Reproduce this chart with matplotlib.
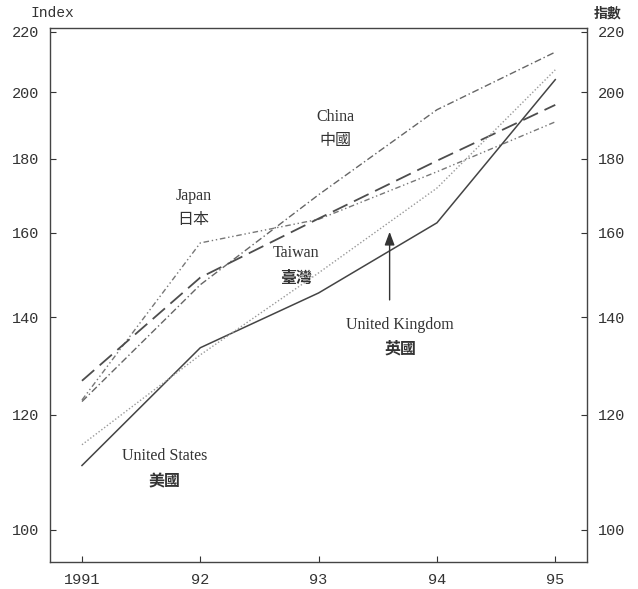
import matplotlib
matplotlib.use("Agg")
import matplotlib.pyplot as plt
from matplotlib.ticker import FixedLocator, NullLocator

years = [1991, 1992, 1993, 1994, 1995]
year_labels = ["1991", "92", "93", "94", "95"]
y_ticks = [100, 120, 140, 160, 180, 200, 220]

china = [122.5, 147.4, 170.0, 194.5, 213.1]
japan = [122.8, 157.5, 163.5, 176.3, 190.8]
taiwan = [126.6, 149.1, 163.7, 179.4, 196.0]
united_kingdom = [110.7, 133.4, 145.5, 162.6, 204.0]
united_states = [114.4, 131.9, 150.2, 171.8, 207.2]

SERIF = ["Liberation Serif", "Noto Sans CJK TC"]
CJK = ["Noto Sans CJK TC", "DejaVu Sans"]
TICK_FONT = ["Liberation Mono", "DejaVu Sans Mono"]

fig = plt.figure(figsize=(6.38, 5.89), dpi=100)
ax = fig.add_axes([0.0784, 0.0458, 0.842, 0.9067])

ax.plot(years, china, color="#666666", lw=1.0, dashes=(5, 2, 1, 2))
ax.plot(years, japan, color="#777777", lw=1.0, dashes=(4, 2, 1, 2, 1, 2))
ax.plot(years, taiwan, color="#4d4d4d", lw=1.3, dashes=(9, 4))
ax.plot(years, united_kingdom, color="#444444", lw=1.1)
ax.plot(years, united_states, color="#999999", lw=1.0, dashes=(1, 1.5))

ax.set_yscale("log")
ax.set_ylim(95.0, 221.4)
ax.set_xlim(1990.73, 1995.27)

ax.yaxis.set_major_locator(FixedLocator(y_ticks))
ax.yaxis.set_minor_locator(NullLocator())
ax.set_yticklabels([str(v) for v in y_ticks])
ax.set_xticks(years)
ax.set_xticklabels(year_labels)

ax.tick_params(axis="both", direction="in", length=4, width=0.8, colors="#333333",
               labelsize=11, pad=8)
ax.tick_params(axis="y", right=True, labelright=True)
for lbl in ax.get_xticklabels() + ax.get_yticklabels():
    lbl.set_family(TICK_FONT)
for s in ax.spines.values():
    s.set_color("#444444")
    s.set_linewidth(1.0)

# series labels
lab = dict(ha="center", va="center", fontsize=11.5, color="#333333")
ax.text(1993.14, 192.3, "China", family=SERIF, **lab)
ax.text(1993.14, 185.2, "中國", family=CJK, **lab)
ax.text(1991.94, 169.7, "Japan", family=SERIF, **lab)
ax.text(1991.94, 163.5, "日本", family=CJK, **lab)
ax.text(1992.81, 155.1, "Taiwan", family=SERIF, **lab)
ax.text(1992.81, 149.1, "臺灣", family=CJK, fontweight="bold", **lab)
ax.text(1993.69, 138.4, "United Kingdom", family=SERIF, **lab)
ax.text(1993.69, 133.2, "英國", family=CJK, fontweight="bold", **lab)
ax.text(1991.70, 112.4, "United States", family=SERIF, **lab)
ax.text(1991.70, 107.9, "美國", family=CJK, fontweight="bold", **lab)

ax.annotate("", xy=(1993.60, 160.3), xytext=(1993.60, 143.9),
            arrowprops=dict(arrowstyle="-|>,head_length=0.8,head_width=0.3",
                            color="#333333", lw=1.0, shrinkA=0, shrinkB=0))

fig.text(30 / 638, 1 - 13 / 589, "Index", ha="left", va="center",
         fontsize=10.5, family=TICK_FONT, color="#333333")
fig.text(608 / 638, 1 - 14 / 589, "指數", ha="center", va="center",
         fontsize=10, family=CJK, fontweight="bold", color="#333333")

fig.savefig("out.png", dpi=100, facecolor="white")
